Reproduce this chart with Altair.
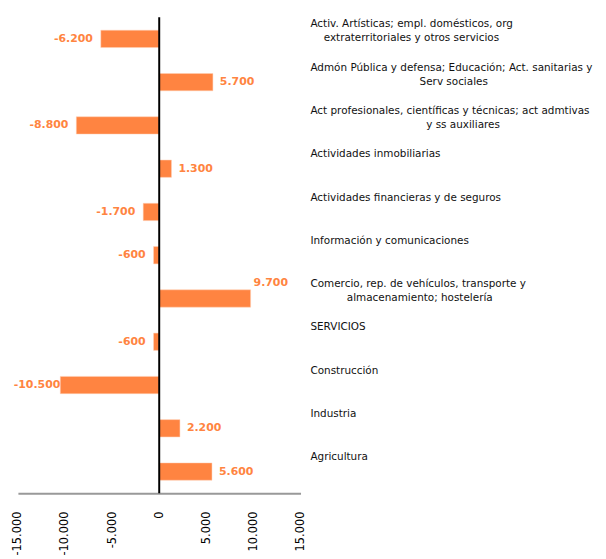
import altair as alt
import pandas as pd

NB = "\u00a0"
categories = [
    "Activ. Artísticas; empl. domésticos, org|extraterritoriales y otros servicios",
    "Admón Pública y defensa; Educación; Act. sanitarias y|Serv sociales",
    "Act profesionales, científicas y técnicas; act admtivas|y ss auxiliares",
    "Actividades inmobiliarias",
    "Actividades financieras y de seguros",
    "Información y comunicaciones",
    "Comercio, rep. de vehículos, transporte y|almacenamiento; hostelería",
    "SERVICIOS",
    "Construcción",
    "Industria",
    "Agricultura",
]
values = [-6200, 5700, -8800, 1300, -1700, -600, 9700, -600, -10500, 2200, 5600]
# leading padding (in spaces) that centres the second line under the first
pad2 = [4, 33, 35, 0, 0, 0, 11, 0, 0, 0, 0]

rows = []
for i, (c, v) in enumerate(zip(categories, values)):
    parts = c.split("|")
    if len(parts) > 1:
        parts[1] = "\u200b" + NB * pad2[i] + parts[1]
    rows.append({"cat": c, "value": v, "lines": parts, "order": i})
df = pd.DataFrame(rows)

orange = "#FF8441"
FONT = "DejaVu Sans"

y = alt.Y("cat:N", sort=categories, axis=None,
          scale=alt.Scale(paddingInner=0.6, paddingOuter=0.3))
xscale = alt.Scale(domain=[-15000, 15000], nice=False)

base = alt.Chart(df)

bars = base.mark_bar(color=orange, stroke="#FFD0B5", strokeWidth=0.5).encode(
    x=alt.X("value:Q", scale=xscale, title=None,
            axis=alt.Axis(values=[-15000, -10000, -5000, 0, 5000, 10000, 15000],
                          format=",.0f", labelAngle=270, labelFontSize=11.5,
                          labelFont=FONT, labelColor="#000", ticks=False,
                          grid=False, domainColor="#999999", domainWidth=2,
                          labelPadding=18)),
    y=y,
)

zero = alt.Chart(pd.DataFrame({"z": [0]})).mark_rule(color="black", strokeWidth=2).encode(
    x=alt.X("z:Q", scale=xscale)
)

lab_style = dict(font=FONT, fontSize=11, fontWeight="bold", color=orange, baseline="middle")

neg = base.transform_filter("datum.value < 0 && datum.value > -10000").mark_text(
    align="right", dx=-8, **lab_style).encode(
    x=alt.X("value:Q", scale=xscale), y=y, text=alt.Text("value:Q", format=","))
negbig = base.transform_filter("datum.value <= -10000").mark_text(
    align="right", dx=0, **lab_style).encode(
    x=alt.X("value:Q", scale=xscale), y=y, text=alt.Text("value:Q", format=","))
pos = base.transform_filter("datum.value > 0 && datum.value < 9000").mark_text(
    align="left", dx=7, **lab_style).encode(
    x=alt.X("value:Q", scale=xscale), y=y, text=alt.Text("value:Q", format=","))
posbig = base.transform_filter("datum.value >= 9000").mark_text(
    align="left", dx=3, dy=-16, **lab_style).encode(
    x=alt.X("value:Q", scale=xscale), y=y, text=alt.Text("value:Q", format=","))

catlabels = base.mark_text(align="left", baseline="alphabetic", dy=-11.5,
                           font=FONT, fontSize=10.5, color="#111", lineHeight=14).encode(
    x=alt.value(295), y=y, text="lines")

chart = alt.layer(bars, zero, neg, negbig, pos, posbig, catlabels).properties(
    width=285, height=480,
    autosize=alt.AutoSizeParams(type="none"),
    padding={"left": 10, "top": 7, "right": 300, "bottom": 60},
).configure_view(stroke=None)

chart.save("out.html", embed_options={
    "renderer": "svg", "actions": False,
    "formatLocale": {"decimal": ",", "thousands": ".", "grouping": [3],
                     "currency": ["", " €"], "minus": "-"},
})
